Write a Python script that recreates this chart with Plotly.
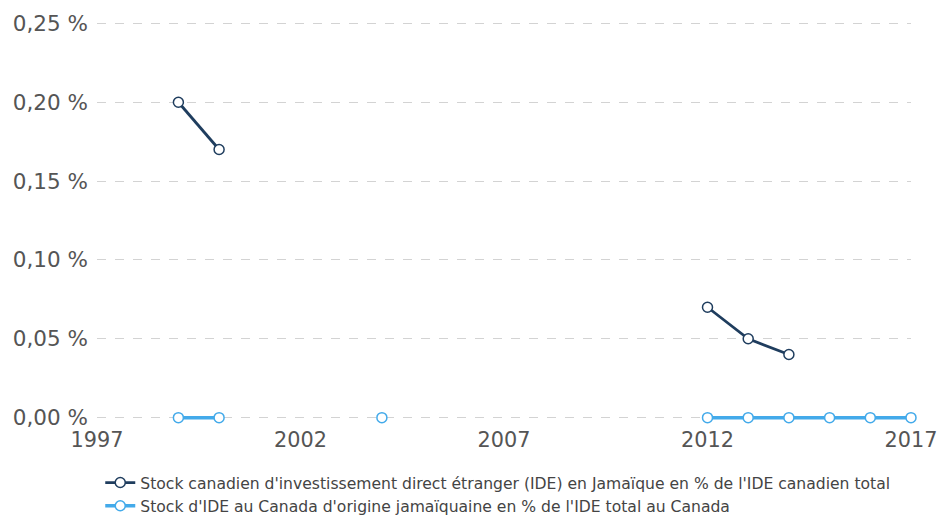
import plotly.graph_objects as go

years = list(range(1997, 2018))
# Stock canadien d'IDE en Jamaïque (% of total Canadian FDI)
cdn_fdi = [None, None, 0.20, 0.17, None, None, None, None, None, None, None,
           None, None, None, None, 0.07, 0.05, 0.04, None, None, None]
# Stock d'IDE au Canada d'origine jamaïquaine (% of total FDI in Canada)
jam_fdi = [None, None, 0.0, 0.0, None, None, None, 0.0, None, None, None,
           None, None, None, None, 0.0, 0.0, 0.0, 0.0, 0.0, 0.0]

x_ticks = [1997, 2002, 2007, 2012, 2017]
y_ticks = [0, 0.05, 0.10, 0.15, 0.20, 0.25]
y_tick_labels = ["0,00 %", "0,05 %", "0,10 %", "0,15 %", "0,20 %", "0,25 %"]

name1 = "Stock canadien d'investissement direct étranger (IDE) en Jamaïque en % de l'IDE canadien total"
name2 = "Stock d'IDE au Canada d'origine jamaïquaine en % de l'IDE total au Canada"

dark = "#1f3d5e"
light = "#43aaea"

fig = go.Figure()
fig.add_trace(go.Scatter(
    x=years, y=cdn_fdi, name=name1, mode="lines+markers",
    line=dict(color=dark, width=2.8),
    marker=dict(size=10, color="white", line=dict(color=dark, width=1.5)),
    cliponaxis=False,
))
fig.add_trace(go.Scatter(
    x=years, y=jam_fdi, name=name2, mode="lines+markers",
    line=dict(color=light, width=3.5),
    marker=dict(size=10, color="white", line=dict(color=light, width=1.5)),
    cliponaxis=False,
))

fig.update_layout(
    width=938, height=517,
    margin=dict(l=97, r=27, t=21, b=97, autoexpand=False),
    paper_bgcolor="white", plot_bgcolor="white",
    font=dict(family="DejaVu Sans, Verdana, sans-serif", color="#555555"),
    showlegend=True,
    legend=dict(
        orientation="v", x=0.004, xanchor="left", y=-0.115, yanchor="top",
        font=dict(size=15.6, color="#444444"), tracegroupgap=0,
        itemwidth=30,
    ),
    xaxis=dict(
        range=[1997, 2017], tickvals=x_ticks,
        showgrid=False, zeroline=False, showline=False, ticks="",
        tickfont=dict(size=20.8, color="#555555"), ticklabelstandoff=5,
    ),
    yaxis=dict(
        range=[-0.0015, 0.2515], tickvals=y_ticks, ticktext=y_tick_labels,
        showgrid=True, gridcolor="#d3d3d3", griddash="dash", gridwidth=1,
        zeroline=False, showline=False, ticks="",
        tickfont=dict(size=21.5, color="#555555"), ticklabelstandoff=8,
    ),
)

fig.write_html(
    "out.html",
    config={"displayModeBar": False},
    post_script="document.body.style.margin='0';document.body.style.overflow='hidden';",
)
